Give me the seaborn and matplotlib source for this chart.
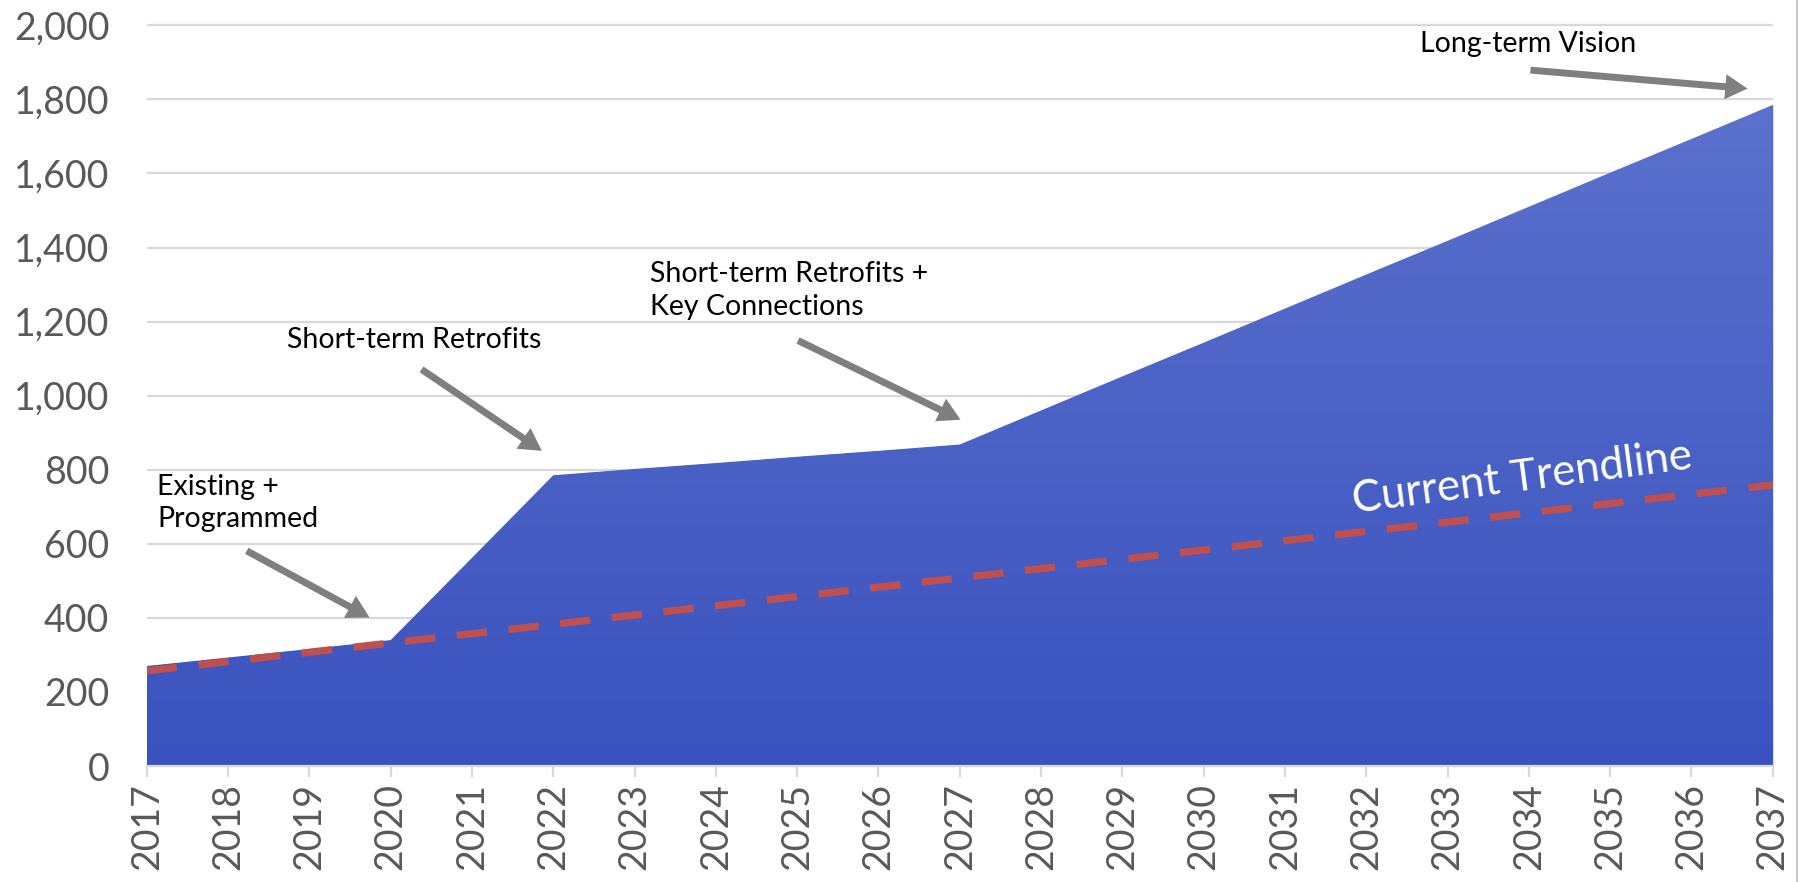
import numpy as np
import pandas as pd
import seaborn as sns
import matplotlib.pyplot as plt
from matplotlib.colors import LinearSegmentedColormap

# network miles by year
years = [2017, 2018, 2019, 2020, 2021, 2022, 2023, 2024, 2025, 2026, 2027,
         2028, 2029, 2030, 2031, 2032, 2033, 2034, 2035, 2036, 2037]
miles = [270, 293, 316, 340, 562, 785, 802, 818, 835, 851, 868,
         960, 1052, 1143, 1235, 1327, 1418, 1510, 1602, 1693, 1785]

# current trendline end points
trend_years = [2017, 2037]
trend_miles = [257, 759]

y_ticks = [0, 200, 400, 600, 800, 1000, 1200, 1400, 1600, 1800, 2000]

# annotation labels: text, text position, arrow tail, arrow head
labels = ["Existing +\nProgrammed", "Short-term Retrofits",
          "Short-term Retrofits +\nKey Connections", "Long-term Vision"]
label_xy = [(2017.13, 711), (2018.72, 1149), (2023.19, 1284), (2032.66, 1950)]
arrow_tail = [(2018.23, 581), (2020.38, 1071), (2025.01, 1149), (2034.02, 1879)]
arrow_head = [(2019.74, 401), (2021.86, 851), (2027.01, 935), (2036.69, 1829)]

df = pd.DataFrame({"year": years, "miles": miles})
trend = pd.DataFrame({"year": trend_years, "miles": trend_miles})

sns.set_theme(style="whitegrid")
plt.rcParams["font.family"] = ["Lato", "DejaVu Sans"]

fig, ax = plt.subplots(figsize=(18.01, 8.82), dpi=100)
fig.subplots_adjust(left=0.0815, right=0.9843, bottom=0.1315, top=0.9755)

# area with a vertical gradient
area = ax.fill_between(df["year"], df["miles"], color="#4560C6", lw=0, zorder=2)
grad = np.linspace(0, 1, 256).reshape(-1, 1)
cmap = LinearSegmentedColormap.from_list("fill", ["#3A52BE", "#5B71CD"])
img = ax.imshow(grad, extent=[years[0], years[-1], 0, max(miles)], origin="lower",
                aspect="auto", cmap=cmap, zorder=2.1, interpolation="bicubic")
img.set_clip_path(area.get_paths()[0], transform=ax.transData)

# dashed trendline
sns.lineplot(data=trend, x="year", y="miles", ax=ax, color="#C0504D",
             linewidth=5.2, linestyle=(0, (4.2, 3.0)), zorder=3)
ax.text(2033.92, 776, "Current Trendline", color="white", fontsize=31.5,
        rotation=7.5, rotation_mode="anchor", ha="center", va="center", zorder=4)

for txt, xy, tail, head in zip(labels, label_xy, arrow_tail, arrow_head):
    ax.text(xy[0], xy[1], txt, fontsize=20.5, color="black", ha="left",
            va="center", linespacing=1.3, zorder=5)
    ax.annotate("", xy=head, xytext=tail, zorder=5,
                arrowprops=dict(arrowstyle="simple,head_length=1.6,head_width=1.8,tail_width=0.5",
                                mutation_scale=10, fc="#7F7F7F", ec="none", lw=0,
                                shrinkA=0, shrinkB=0))

ax.set_xlim(years[0], years[-1])
ax.set_ylim(0, 2010)
ax.set_xticks(years)
ax.set_xticklabels([str(y) for y in years], rotation=90)
ax.set_yticks(y_ticks)
ax.set_yticklabels([f"{v:,}" for v in y_ticks])
ax.set_xlabel("")
ax.set_ylabel("")

ax.grid(axis="x", visible=False)
ax.grid(axis="y", color="#D9D9D9", linewidth=1.6)
ax.set_axisbelow(True)
for side in ["top", "right", "left"]:
    ax.spines[side].set_visible(False)
ax.spines["bottom"].set_color("#D9D9D9")
ax.spines["bottom"].set_linewidth(1.6)
ax.spines["bottom"].set_zorder(6)

ax.tick_params(axis="x", bottom=True, length=8, width=1.6, color="#D9D9D9",
               pad=4, labelsize=27, labelcolor="#595959")
ax.tick_params(axis="y", left=False, length=0, pad=27, labelsize=27,
               labelcolor="#595959")

# thin frame line at the right edge of the image
fig.add_artist(plt.Line2D([0.998, 0.998], [0, 1], color="#C8C8C8", lw=1.5))

fig.savefig("out.png", dpi=100)
